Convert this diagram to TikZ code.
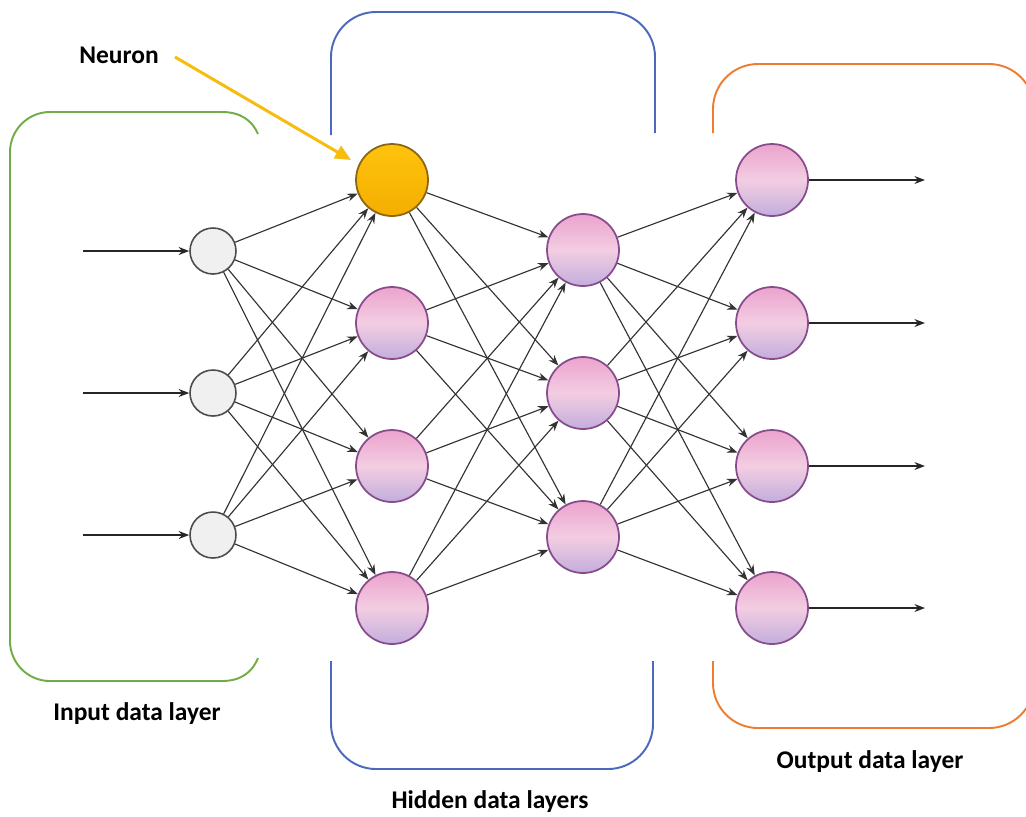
\documentclass[tikz,border=0pt]{standalone}
\usepackage{fontspec}
\setmainfont{Carlito}
\usetikzlibrary{arrows.meta}
\definecolor{pinktop}{HTML}{EBA3CD}
\definecolor{pinkmid}{HTML}{F3CDE2}
\definecolor{lavbot}{HTML}{C2AEDD}
\definecolor{nodeedge}{HTML}{874C8C}
\definecolor{goldtop}{HTML}{FFC30D}
\definecolor{goldbot}{HTML}{F4AE00}
\definecolor{goldedge}{HTML}{8A6512}
\definecolor{linkgray}{HTML}{333333}
\definecolor{grnline}{HTML}{70AD47}
\definecolor{bluline}{HTML}{4A68BC}
\definecolor{orgline}{HTML}{ED7D31}
\definecolor{pointcol}{HTML}{F6BC10}

\begin{document}
\begin{tikzpicture}[x=0.02cm,y=-0.02cm,
    inneuron/.style={circle,draw=gray!60!black,fill=gray!12,line width=0.9pt,
        minimum size=0.92cm,inner sep=0pt},
    hidneuron/.style={circle,draw=nodeedge,line width=1pt,top color=pinktop,
        bottom color=lavbot,middle color=pinkmid,minimum size=1.44cm,inner sep=0pt},
    goldneuron/.style={circle,draw=goldedge,line width=1pt,top color=goldtop,
        bottom color=goldbot,minimum size=1.44cm,inner sep=0pt},
    link/.style={-{Stealth[length=6pt,width=4.5pt]},draw=linkgray,line width=0.65pt},
    ioarrow/.style={-{Stealth[length=6pt,width=4.5pt]},draw=black!85,line width=1pt},
    layertext/.style={font=\bfseries\fontsize{14.5}{17}\selectfont},
    bracket/.style={line width=1.1pt,rounded corners=0.9cm}
]
    \useasboundingbox (0,0) rectangle (1026,816);

    % layer frames
    \draw[grnline,line width=1.1pt,rounded corners=0.8cm] (222,112) -- (10,112) -- (10,681) -- (222,681);
    \draw[grnline,line width=1.1pt] (222,112) .. controls (240,112) and (252,120) .. (258,134);
    \draw[grnline,line width=1.1pt] (222,681) .. controls (240,681) and (252,673) .. (258,658);
    \draw[bluline,bracket] (331,135) -- (331,12) -- (655,12) -- (655,133);
    \draw[bluline,bracket] (331,661) -- (331,769) -- (653,769) -- (653,661);
    \draw[orgline,bracket] (713,133) -- (713,64) -- (1034,64) -- (1034,150);
    \draw[orgline,bracket] (713,661) -- (713,728) -- (1034,728) -- (1034,640);

    % neurons
    \foreach \i/\y in {1/251,2/393,3/535}
        \node[inneuron] (in\i) at (213,\y) {};
    \node[goldneuron] (ha1) at (392,180) {};
    \foreach \i/\y in {2/323,3/466,4/608}
        \node[hidneuron] (ha\i) at (392,\y) {};
    \foreach \i/\y in {1/250,2/393,3/537}
        \node[hidneuron] (hb\i) at (583,\y) {};
    \foreach \i/\y in {1/180,2/323,3/466,4/608}
        \node[hidneuron] (out\i) at (772,\y) {};

    % weights
    \foreach \i in {1,2,3}
        \foreach \j in {1,...,4}
            \draw[link] (in\i) -- (ha\j);
    \foreach \i in {1,...,4}
        \foreach \j in {1,2,3}
            \draw[link] (ha\i) -- (hb\j);
    \foreach \i in {1,2,3}
        \foreach \j in {1,...,4}
            \draw[link] (hb\i) -- (out\j);

    % inputs and outputs
    \foreach \i/\y in {1/251,2/393,3/535} {
        \coordinate (src\i) at (83,\y);
        \draw[ioarrow] (src\i) -- (in\i);
    }
    \foreach \i/\y in {1/180,2/323,3/466,4/608} {
        \coordinate (dst\i) at (925,\y);
        \draw[ioarrow,line width=0.8pt] (out\i) -- (dst\i);
    }

    % labels
    \node[layertext] (neuronlbl) at (119,55) {Neuron};
    \coordinate (nstart) at (175,57);
    \draw[pointcol,line width=1.7pt,-{Triangle[length=9pt,width=8pt]},shorten >=5pt]
        (nstart) -- (ha1.155);
    \node[layertext] (inlbl) at (137,714) {Input data layer};
    \node[layertext] (hidlbl) at (490,802) {Hidden data layers};
    \node[layertext] (outlbl) at (870,762) {Output data layer};
\end{tikzpicture}
\end{document}
